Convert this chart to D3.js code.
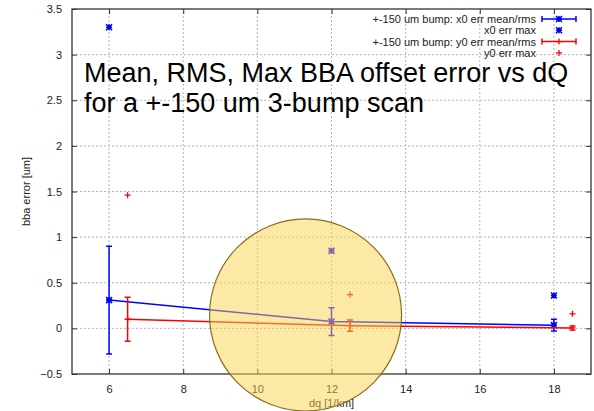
<!DOCTYPE html>
<html>
<head>
<meta charset="utf-8">
<script src="https://cdn.jsdelivr.net/npm/d3@7"></script>
<style>
  html, body { margin: 0; padding: 0; background: #fff; }
  svg { display: block; font-family: "Liberation Sans", Arial, sans-serif; }
</style>
</head>
<body>
<svg id="chart" width="594" height="411"></svg>
<script>
// dQ positions of each scan (y0 series is offset by +0.5 for readability)
const dqX0 = [6, 12, 18];
const dqY0 = [6.5, 12.5, 18.5];

// x0 offset error: mean, rms, max [um]
const x0Mean = [0.31, 0.075, 0.035];
const x0Rms  = [0.59, 0.152, 0.065];
const x0Max  = [3.30, 0.85, 0.36];

// y0 offset error: mean, rms, max [um]
const y0Mean = [0.10, 0.03, 0.005];
const y0Rms  = [0.24, 0.062, 0.022];
const y0Max  = [1.46, 0.37, 0.16];

// axis ticks
const xTicks = [6, 8, 10, 12, 14, 16, 18];
const yTicks = [-0.5, 0, 0.5, 1, 1.5, 2, 2.5, 3, 3.5];

// highlighted region (in dq units / um)
const highlightCenter = [11.3, 0.147];
const highlightRadiusDq = [2.59];

const titleLines = ["Mean, RMS, Max BBA offset error vs dQ", "for a +-150 um 3-bump scan"];
const legendLabels = [
  "+-150 um bump: x0 err mean/rms",
  "x0 err max",
  "+-150 um bump: y0 err mean/rms",
  "y0 err max"
];

const W = 594, H = 411;
const m = { left: 72, right: 3, top: 9, bottom: 37 };
const svg = d3.select("#chart");

const x = d3.scaleLinear().domain([5, 19]).range([m.left, W - m.right]);
const y = d3.scaleLinear().domain([-0.5, 3.5]).range([H - m.bottom, m.top]);

const BLUE = "#0000ff", RED = "#ff0000";
const textColor = "#222";

// grid
const grid = svg.append("g").attr("stroke", "#b4b4b4").attr("stroke-width", 1)
  .attr("stroke-dasharray", "2,2").attr("fill", "none");
xTicks.forEach(t => grid.append("line")
  .attr("x1", x(t)).attr("x2", x(t)).attr("y1", y.range()[0]).attr("y2", y.range()[1]));
yTicks.slice(1, -1).forEach(t => grid.append("line")
  .attr("x1", x.range()[0]).attr("x2", x.range()[1]).attr("y1", y(t)).attr("y2", y(t)));

// axes: ticks inward, mirrored on opposite sides
const axisStyle = g => {
  g.select(".domain").remove();
  g.selectAll(".tick line").attr("stroke", "#333");
  g.selectAll(".tick text").attr("fill", textColor).style("font-size", "11px");
};
svg.append("g").attr("transform", `translate(0,${y(-0.5)})`)
  .call(d3.axisBottom(x).tickValues(xTicks).tickFormat(d3.format("d")).tickSizeInner(-5).tickPadding(11))
  .call(axisStyle);
svg.append("g").attr("transform", `translate(0,${y(3.5)})`)
  .call(d3.axisTop(x).tickValues(xTicks).tickSizeInner(-5).tickFormat(""))
  .call(axisStyle);
svg.append("g").attr("transform", `translate(${x(5)},0)`)
  .call(d3.axisLeft(y).tickValues(yTicks).tickFormat(d3.format("")).tickSizeInner(-5).tickPadding(10))
  .call(axisStyle);
svg.append("g").attr("transform", `translate(${x(19)},0)`)
  .call(d3.axisRight(y).tickValues(yTicks).tickSizeInner(-5).tickFormat(""))
  .call(axisStyle);

// frame
svg.append("rect").attr("x", x(5)).attr("y", y(3.5))
  .attr("width", x(19) - x(5)).attr("height", y(-0.5) - y(3.5))
  .attr("fill", "none").attr("stroke", "#333").attr("stroke-width", 1.3);

// axis labels
svg.append("text").attr("x", (x(5) + x(19)) / 2).attr("y", 407)
  .attr("text-anchor", "middle").attr("fill", textColor).style("font-size", "11px")
  .text("dq [1/km]");
svg.append("text").attr("transform", `translate(30,${(y(-0.5) + y(3.5)) / 2}) rotate(-90)`)
  .attr("text-anchor", "middle").attr("fill", textColor).style("font-size", "11px")
  .text("bba error [um]");

// title text
svg.append("g").selectAll("text").data(titleLines).join("text")
  .attr("x", 84).attr("y", (d, i) => 82 + i * 30)
  .attr("fill", "#000").style("font-size", "27px")
  .text(d => d);

// marker helpers
function asterisk(g, cx, cy, color, s = 3) {
  const p = `M${cx - s},${cy}H${cx + s}M${cx},${cy - s}V${cy + s}` +
            `M${cx - s},${cy - s}L${cx + s},${cy + s}M${cx - s},${cy + s}L${cx + s},${cy - s}`;
  g.append("path").attr("d", p).attr("stroke", color).attr("stroke-width", 1.6).attr("fill", "none");
}
function plus(g, cx, cy, color, s = 3) {
  g.append("path").attr("d", `M${cx - s},${cy}H${cx + s}M${cx},${cy - s}V${cy + s}`)
    .attr("stroke", color).attr("stroke-width", 1.3).attr("fill", "none");
}
function errorBar(g, cx, lo, hi, color) {
  const c = 3;
  g.append("path")
    .attr("d", `M${cx},${lo}V${hi}M${cx - c},${lo}H${cx + c}M${cx - c},${hi}H${cx + c}`)
    .attr("stroke", color).attr("stroke-width", 1.5).attr("fill", "none");
}

const plot = svg.append("g");
const line = d3.line();

function drawSeries(xs, means, rms, maxes, color, marker) {
  plot.append("path")
    .attr("d", line(xs.map((d, i) => [x(d), y(means[i])])))
    .attr("stroke", color).attr("stroke-width", 1.5).attr("fill", "none");
  xs.forEach((d, i) => {
    errorBar(plot, x(d), y(means[i] - rms[i]), y(means[i] + rms[i]), color);
    marker(plot, x(d), y(means[i]), color);
    marker(plot, x(d), y(maxes[i]), color);
  });
}
drawSeries(dqX0, x0Mean, x0Rms, x0Max, BLUE, asterisk);
drawSeries(dqY0, y0Mean, y0Rms, y0Max, RED, plus);

// legend
const leg = svg.append("g").style("font-size", "11px");
const legTextX = 536, legS0 = 542, legS1 = 576, legMid = 559;
legendLabels.forEach((lab, i) => {
  const ly = 19 + i * 11.3;
  leg.append("text").attr("x", legTextX).attr("y", ly + 4).attr("text-anchor", "end")
    .attr("fill", textColor).text(lab);
  const color = i < 2 ? BLUE : RED;
  if (i % 2 === 0) {
    leg.append("path")
      .attr("d", `M${legS0},${ly}H${legS1}M${legS0},${ly - 3}V${ly + 3}M${legS1},${ly - 3}V${ly + 3}`)
      .attr("stroke", color).attr("stroke-width", 1.5).attr("fill", "none");
  }
  (i < 2 ? asterisk : plus)(leg, legMid, ly, color);
});

// highlighted region drawn over the plot
const rPx = x(highlightCenter[0] + highlightRadiusDq[0]) - x(highlightCenter[0]);
svg.append("circle")
  .attr("cx", x(highlightCenter[0])).attr("cy", y(highlightCenter[1])).attr("r", rPx)
  .attr("fill", "#fad44c").attr("fill-opacity", 0.5)
  .attr("stroke", "#8a6d1c").attr("stroke-width", 1.2);
</script>
</body>
</html>
